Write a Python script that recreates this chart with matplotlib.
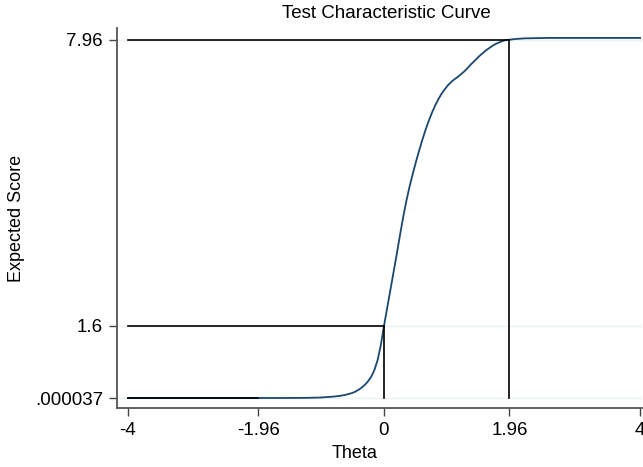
import matplotlib
matplotlib.use("Agg")
import matplotlib.pyplot as plt

plt.rcParams['font.family'] = ['Liberation Sans', 'DejaVu Sans']

theta = [-4, -3, -2.5, -1.96, -1.5, -1.2, -1.0, -0.8, -0.7, -0.6,
         -0.5, -0.45, -0.4, -0.35, -0.3, -0.25, -0.2, -0.15, -0.1, -0.05,
         0, 0.05, 0.1, 0.15, 0.2, 0.25, 0.3, 0.35, 0.4, 0.45,
         0.5, 0.55, 0.6, 0.65, 0.7, 0.75, 0.8, 0.85, 0.9, 0.95,
         1.0, 1.05, 1.1, 1.15, 1.2, 1.25, 1.3, 1.35, 1.4, 1.45,
         1.5, 1.55, 1.6, 1.65, 1.7, 1.75, 1.8, 1.85, 1.9, 1.96,
         2.05, 2.2, 2.4, 2.6, 3.0, 3.5, 4.0]
score = [0.0, 0.0, 0.0, 0.000037, 0.001, 0.004, 0.01, 0.03, 0.045, 0.07,
         0.11, 0.14, 0.18, 0.23, 0.29, 0.37, 0.47, 0.62, 0.84, 1.17,
         1.6, 2.0, 2.4, 2.8, 3.2, 3.62, 4.02, 4.38, 4.7, 4.98,
         5.25, 5.5, 5.74, 5.96, 6.16, 6.34, 6.5, 6.64, 6.76, 6.86,
         6.95, 7.02, 7.08, 7.13, 7.19, 7.25, 7.32, 7.4, 7.47, 7.54,
         7.61, 7.67, 7.73, 7.78, 7.83, 7.87, 7.9, 7.93, 7.95, 7.96,
         7.975, 7.99, 7.995, 8.0, 8.0, 8.0, 8.0]

x_ticks = [-4, -1.96, 0, 1.96, 4]
x_labels = ["-4", "-1.96", "0", "1.96", "4"]
y_ticks = [0.000037, 1.6, 7.96]
y_labels = [".000037", "1.6", "7.96"]

# reference lines: (theta, score)
ref_points = [(-1.96, 0.000037), (0, 1.6), (1.96, 7.96)]

W, H = 643, 467
fig = plt.figure(figsize=(W / 100, H / 100), dpi=100)
ax = fig.add_axes([117 / W, 1 - 408 / H, (642 - 117) / W, (408 - 28) / H])

for yt in y_ticks:
    ax.axhline(yt, color='#eaf2f3', lw=1.0, zorder=0)

ax.plot(theta, score, color='#1a476f', lw=1.3, zorder=2)

ymin = y_ticks[0]
for tx, ty in ref_points:
    ax.plot([x_ticks[0], tx], [ty, ty], color='black', lw=1.2, zorder=3)
    ax.plot([tx, tx], [ymin, ty], color='black', lw=1.2, zorder=3)

ax.set_xlim(-4.17, 4.03)
ax.set_ylim(-0.222, 8.22)
ax.set_xticks(x_ticks)
ax.set_xticklabels(x_labels)
ax.set_yticks(y_ticks)
ax.set_yticklabels(y_labels)
ax.tick_params(axis='both', direction='out', length=6, width=1.0, color='#444444',
               labelsize=13.5, pad=4)
for s in ['top', 'right']:
    ax.spines[s].set_visible(False)
for s in ['left', 'bottom']:
    ax.spines[s].set_color('#555555')
    ax.spines[s].set_linewidth(1.3)

fig.text(386 / W, 1 - 14 / H, "Test Characteristic Curve", ha='center', va='center',
         fontsize=13.5)
fig.text(355 / W, 1 - 453 / H, "Theta", ha='center', va='center', fontsize=13)
fig.text(17 / W, 1 - 218 / H, "Expected Score", ha='center', va='center',
         rotation=90, fontsize=13)

fig.savefig("out.png", dpi=100)
